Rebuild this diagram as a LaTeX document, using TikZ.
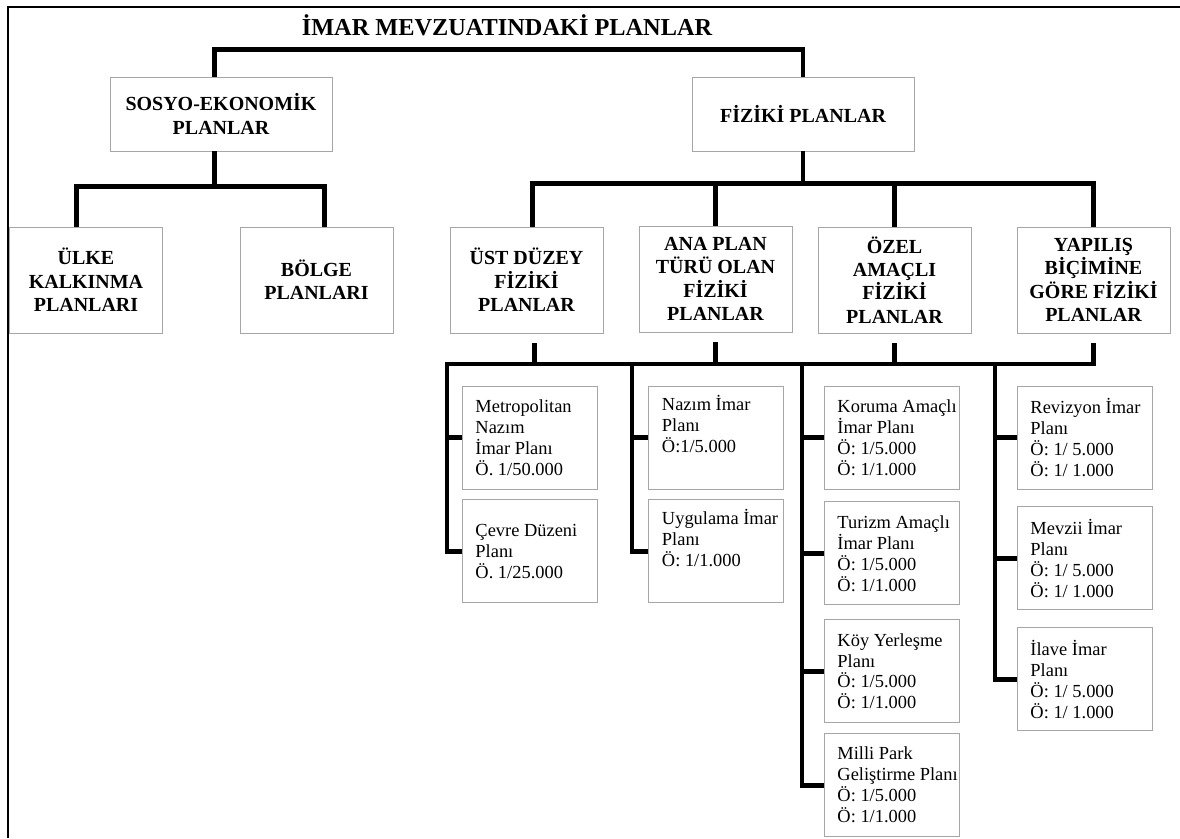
\documentclass[tikz,border=0pt]{standalone}
\usepackage{fontspec}
\setmainfont{Liberation Serif}
\usetikzlibrary{positioning}

\begin{document}
\begin{tikzpicture}[
    x=0.025cm, y=-0.025cm,
    conn/.style={line width=3.5pt},
    head/.style={rectangle, draw=black!35, line width=0.6pt, minimum width=5.55cm, minimum height=1.85cm, align=center, font=\fontsize{14.2}{16.6}\selectfont\bfseries},
    group/.style={rectangle, draw=black!35, line width=0.6pt, minimum width=3.825cm, minimum height=2.65cm, inner sep=2pt, align=center, font=\fontsize{14.2}{16.6}\selectfont\bfseries},
    plan/.style={rectangle, draw=black!35, line width=0.6pt, text width=3.1cm, inner xsep=0.1375cm, minimum height=2.575cm, align=flush left, font=\fontsize{13.1}{14.9}\selectfont,
        execute at begin node={\leftskip=0.2cm\rightskip=-0.2cm plus 1fil}}
]
\useasboundingbox (0,0) rectangle (1180,838);
\draw[line width=1pt] (8,838) -- (8,7) -- (1180,7);

\node[font=\fontsize{17.3}{20}\selectfont\bfseries] (title) at (507,25) {İMAR MEVZUATINDAKİ PLANLAR};
\node[head] (sosyo) at (221,114) {SOSYO-EKONOMİK\\PLANLAR};
\node[head] (fiziki) at (803,114) {FİZİKİ PLANLAR};

% second level
\node[group] (ulke) at (86,280) {ÜLKE\\KALKINMA\\PLANLARI};
\node[group] (bolge) at (316.5,280) {BÖLGE\\PLANLARI};
\node[group] (ust) at (526.5,280) {ÜST DÜZEY\\FİZİKİ\\PLANLAR};
\node[group] (ana) at (715.5,279) {ANA PLAN\\TÜRÜ OLAN\\FİZİKİ\\PLANLAR};
\node[group] (ozel) at (894.5,280) {ÖZEL\\AMAÇLI\\FİZİKİ\\PLANLAR};
\node[group] (yapilis) at (1093.5,280) {YAPILIŞ\\BİÇİMİNE\\GÖRE FİZİKİ\\PLANLAR};

% plans
\node[plan] (metro) at (529.5,437.5) {Metropolitan\\Nazım\\İmar Planı\\Ö. 1/50.000};
\node[plan, below=0.25cm of metro] (cevre) {Çevre Düzeni\\Planı\\Ö. 1/25.000};
\node[plan] (nazim) at (716,437.5) {Nazım İmar\\Planı\\Ö:1/5.000\\\strut};
\node[plan, below=0.25cm of nazim] (uyg) {Uygulama İmar\\Planı\\Ö: 1/1.000\\\strut};
\node[plan] (koruma) at (891.5,437.5) {Koruma Amaçlı\\İmar Planı\\Ö: 1/5.000\\Ö: 1/1.000};
\node[plan, below=0.3cm of koruma] (turizm) {Turizm Amaçlı\\İmar Planı\\Ö: 1/5.000\\Ö: 1/1.000};
\node[plan, below=0.35cm of turizm] (koy) {Köy Yerleşme\\Planı\\Ö: 1/5.000\\Ö: 1/1.000};
\node[plan, below=0.25cm of koy] (milli) {Milli Park\\Geliştirme Planı\\Ö: 1/5.000\\Ö: 1/1.000};
\node[plan] (revizyon) at (1084.5,437.5) {Revizyon İmar\\Planı\\Ö: 1/ 5.000\\Ö: 1/ 1.000};
\node[plan, below=0.425cm of revizyon] (mevzii) {Mevzii İmar\\Planı\\Ö: 1/ 5.000\\Ö: 1/ 1.000};
\node[plan, below=0.425cm of mevzii] (ilave) {İlave İmar\\Planı\\Ö: 1/ 5.000\\Ö: 1/ 1.000};

% upper brackets
\draw[conn] ([xshift=-0.17cm]sosyo.north) -- ++(0,-27) -| (fiziki.north);
\draw[conn] ([xshift=-0.17cm]sosyo.south) -- ++(0,35) coordinate (sj);
\draw[conn] ([xshift=-0.24cm]ulke.north) |- (sj) -| ([xshift=0.2cm]bolge.north);
\draw[conn] (fiziki.south) -- ++(0,32) coordinate (fj);
\draw[conn] ([xshift=0.16cm]ust.north) |- (fj) -| (yapilis.north);
\draw[conn] (ana.north) -- (ana.north |- fj);
\draw[conn] (ozel.north) -- (ozel.north |- fj);

% lower rail
\coordinate (r1) at (447,364);
\coordinate (r2) at (632,364);
\coordinate (r3) at (802,364);
\coordinate (r4) at (995,364);
\draw[conn] (cevre.west) -| (r1) -- (r4) -| ([yshift=-0.25cm]yapilis.south);
\draw[conn, shorten <=0.25cm] ([xshift=0.2cm]ust.south) -- ([xshift=0.2cm]ust.south |- r1);
\draw[conn, shorten <=0.25cm] (ana.south) -- (ana.south |- r1);
\draw[conn, shorten <=0.25cm] (ozel.south) -- (ozel.south |- r1);

\draw[conn] (metro.west) -- (metro.west -| r1);
\draw[conn] (uyg.west) -| (r2);
\draw[conn] (nazim.west) -- (nazim.west -| r2);
\draw[conn] (milli.west) -| (r3);
\draw[conn] (koruma.west) -- (koruma.west -| r3);
\draw[conn] (turizm.west) -- (turizm.west -| r3);
\draw[conn] (koy.west) -- (koy.west -| r3);
\draw[conn] (ilave.west) -| (r4);
\draw[conn] (revizyon.west) -- (revizyon.west -| r4);
\draw[conn] (mevzii.west) -- (mevzii.west -| r4);
\end{tikzpicture}
\end{document}
